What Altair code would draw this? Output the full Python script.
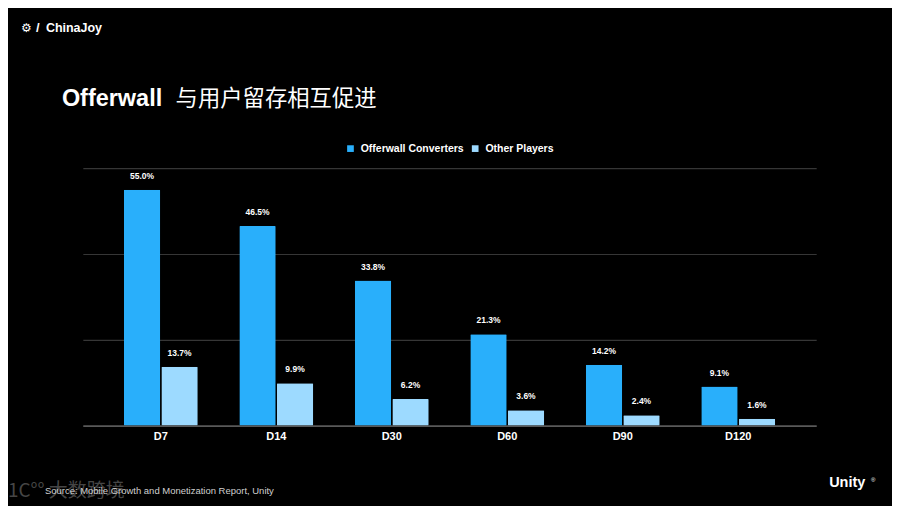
import altair as alt
import pandas as pd

categories = ["D7", "D14", "D30", "D60", "D90", "D120"]
series_names = ["Offerwall Converters", "Other Players"]
offerwall_converters = [55.0, 46.5, 33.8, 21.3, 14.2, 9.1]
other_players = [13.7, 9.9, 6.2, 3.6, 2.4, 1.6]
y_ticks = [0, 20, 40, 60]

rows = []
for i, c in enumerate(categories):
    rows.append({"day": c, "series": series_names[0], "value": offerwall_converters[i]})
    rows.append({"day": c, "series": series_names[1], "value": other_players[i]})
df = pd.DataFrame(rows)
df["label"] = df["value"].map(lambda v: f"{v:.1f}%")

W, H = 735, 258
colors = ["#29AFFB", "#9DDAFF"]

x_enc = alt.X("day:N", sort=categories, title=None,
              scale=alt.Scale(paddingInner=0.36, paddingOuter=0.355),
              axis=alt.Axis(labelAngle=0, labelColor="#FFFFFF", labelFont="Liberation Sans",
                            labelFontWeight="bold", labelFontSize=11, labelPadding=5,
                            domainColor="#6A6A6A", domainWidth=1.2, ticks=False, grid=False))
xoff = alt.XOffset("series:N", sort=series_names,
                   scale=alt.Scale(paddingInner=0.03, paddingOuter=0))
y_enc = alt.Y("value:Q", title=None,
              scale=alt.Scale(domain=[0, 60], nice=False),
              axis=alt.Axis(values=y_ticks, labels=False, ticks=False, domain=False,
                            grid=True, gridColor="#363636", gridWidth=1.2))

bars = alt.Chart(df).mark_bar(cornerRadius=1).encode(
    x=x_enc, xOffset=xoff, y=y_enc,
    color=alt.Color("series:N", sort=series_names,
                    scale=alt.Scale(domain=series_names, range=colors),
                    legend=alt.Legend(title=None, orient="none", legendX=263, legendY=-25,
                                      direction="horizontal", symbolType="square",
                                      symbolSize=45, symbolStrokeWidth=0,
                                      labelColor="#FFFFFF", labelFont="Liberation Sans",
                                      labelFontWeight="bold", labelFontSize=10.5,
                                      columnPadding=6, symbolOffset=0, labelOffset=5)),
)

labels = alt.Chart(df).mark_text(color="#FFFFFF", font="Liberation Sans", fontWeight="bold",
                                  fontSize=8.5, baseline="bottom", dy=-9).encode(
    x=alt.X("day:N", sort=categories), xOffset=alt.XOffset("series:N", sort=series_names),
    y="value:Q", text="label:N")

def deco(text, x, y, size, weight="normal", color="#FFFFFF", font="Liberation Sans",
         align="left", opacity=1.0):
    return alt.Chart(pd.DataFrame({"t": [text]})).mark_text(
        align=align, baseline="alphabetic", fontSize=size, fontWeight=weight,
        color=color, font=font, opacity=opacity).encode(
        x=alt.value(x), y=alt.value(y), text="t:N")

# positions relative to plot origin (page x 83, y 168)
decos = [
    deco("⚙", -62, -137, 12, "bold", font="DejaVu Sans"),
    deco("/", -47, -137, 13, "bold"),
    deco("ChinaJoy", -37, -137, 12.5, "bold"),
    deco("Offerwall", -21, -62, 23.5, "bold"),
    deco("与用户留存相互促进", 93, -62, 22.4, "normal", font="Noto Sans CJK SC"),
    deco("1C°° 大数跨境", -75, 330, 19, "normal", color="#9A9A9A",
         font="Noto Sans CJK SC", opacity=0.45),
    deco("Source: Mobile Growth and Monetization Report, Unity", -38, 327, 9.5,
         color="#D0D0D0"),
    deco("Unity", 748, 320, 14.5, "bold"),
    deco("®", 790, 315, 6, "normal"),
]

chart = alt.layer(bars, labels, *decos).properties(
    width=W, height=H,
    background="#000000",
    padding={"left": 75, "top": 160, "right": 76, "bottom": 80},
    autosize=alt.AutoSizeParams(type="none"),
).configure_view(stroke=None)

chart.save("out.html", embed_options={"renderer": "svg", "actions": False})
